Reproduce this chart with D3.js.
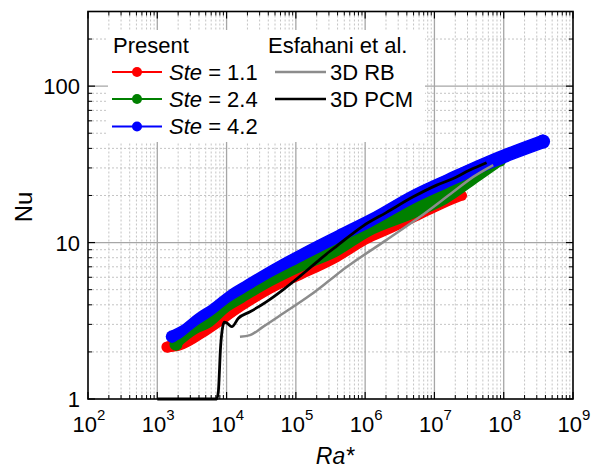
<!DOCTYPE html>
<html><head><meta charset="utf-8">
<script src="https://cdn.jsdelivr.net/npm/d3@7"></script>
<style>
body{margin:0;background:#fff;}
text{font-family:"Liberation Sans",Arial,Helvetica,sans-serif;fill:#000;}
</style>
</head><body>
<svg id="chart" width="595" height="470"></svg>
<script>
// ---------- data ----------
const xMajorTicks = [1e2, 1e3, 1e4, 1e5, 1e6, 1e7, 1e8, 1e9];
const xTickExponents = ["2", "3", "4", "5", "6", "7", "8", "9"];
const yMajorTicks = [1, 10, 100];
const yTickLabels = ["1", "10", "100"];

// Present, Ste = 1.1 (scatter band envelope)
const redRa     = [1380, 2126, 5760, 17420, 52840, 127900, 387900, 1.173e6, 2.133e6, 6.18e6, 1.866e7, 2.49e7];
const redNuLow  = [2.00, 2.06, 2.64, 3.71, 4.97, 5.93, 7.51, 10.07, 11.33, 14.13, 17.75, 18.69];
const redNuHigh = [2.31, 2.45, 3.15, 4.42, 5.93, 7.08, 8.96, 12.02, 13.52, 16.86, 21.02, 21.34];

// Present, Ste = 2.4
const greenRa     = [1861, 2126, 3703, 5760, 11190, 17420, 33860, 127900, 387900, 1.173e6, 4.94e6, 1.50e7, 4.54e7, 8.81e7];
const greenNuLow  = [2.06, 2.18, 2.64, 2.89, 3.71, 4.17, 4.97, 6.67, 8.20, 11.10, 14.34, 17.88, 25.08, 30.83];
const greenNuHigh = [2.45, 2.60, 3.29, 3.76, 4.69, 5.27, 6.29, 8.32, 10.68, 14.34, 20.41, 25.83, 32.21, 36.24];

// Present, Ste = 4.2
const blueRa     = [1630, 2126, 3703, 5760, 11190, 17420, 33860, 127900, 387900, 1.173e6, 4.94e6, 1.50e7, 4.54e7, 1.371e8, 3.68e8];
const blueNuLow  = [2.31, 2.45, 2.97, 3.37, 4.23, 4.76, 5.68, 7.73, 9.93, 12.56, 17.88, 22.46, 28.02, 34.16, 40.17];
const blueNuHigh = [2.72, 2.89, 3.49, 3.96, 4.97, 5.59, 6.67, 9.22, 11.84, 15.12, 21.65, 27.20, 33.91, 41.37, 48.63];

// Esfahani et al., 3D RB
const rbRa = [15600, 21800, 33900, 66000, 160000, 310000, 510000, 2.04e6, 6.2e6, 1.87e7, 3.63e7, 7.06e7];
const rbNu = [2.50, 2.56, 2.90, 3.53, 4.60, 5.76, 6.84, 10.4, 14.6, 21.1, 26.3, 31.3];

// Esfahani et al., 3D PCM
const pcmRa = [1000, 7200, 7600, 8200, 8800, 9300, 10100, 11900, 14800, 21800, 37900, 65800, 115000, 200000, 310000, 388000, 940000, 2.04e6, 4.94e6, 1.08e7, 1.87e7, 3.25e7, 5.66e7];
const pcmNu = [1.0, 1.0, 1.11, 2.16, 2.90, 3.10, 3.06, 2.90, 3.28, 3.61, 4.19, 5.0, 6.1, 7.5, 8.8, 9.5, 12.8, 15.6, 19.6, 23.3, 25.7, 29.1, 32.4];

const legendPresentLabels = ["1.1", "2.4", "4.2"];
const legendEsfLabels = ["3D RB", "3D PCM"];

// ---------- layout ----------
const svg = d3.select("#chart");
const L = 88, R = 573, T = 11.5, B = 399;
const x = d3.scaleLog().domain([1e2, 1e9]).range([L, R]);
const y = d3.scaleLog().domain([1, 300]).range([B, T]);

const colRed = "#ff0000", colGreen = "#008000", colBlue = "#0000ff";
const colGray = "#8c8c8c", colBlack = "#000000";

// ---------- grid ----------
const xMinor = [];
for (let e = 2; e < 9; e++) for (let m = 2; m <= 9; m++) xMinor.push(m * Math.pow(10, e));
const yMinor = [];
for (let e = 0; e < 3; e++) for (let m = 2; m <= 9; m++) { const v = m * Math.pow(10, e); if (v < 300) yMinor.push(v); }

const grid = svg.append("g");
grid.selectAll(".gxm").data(xMinor).enter().append("line")
  .attr("x1", d => x(d)).attr("x2", d => x(d)).attr("y1", T).attr("y2", B)
  .attr("stroke", "#c4c4c4").attr("stroke-width", 1).attr("stroke-dasharray", "2,2");
grid.selectAll(".gym").data(yMinor).enter().append("line")
  .attr("y1", d => y(d)).attr("y2", d => y(d)).attr("x1", L).attr("x2", R)
  .attr("stroke", "#c4c4c4").attr("stroke-width", 1).attr("stroke-dasharray", "2,2");
grid.selectAll(".gxM").data(xMajorTicks.slice(1, -1)).enter().append("line")
  .attr("x1", d => x(d)).attr("x2", d => x(d)).attr("y1", T).attr("y2", B)
  .attr("stroke", "#a6a6a6").attr("stroke-width", 1.3);
grid.selectAll(".gyM").data(yMajorTicks.slice(1)).enter().append("line")
  .attr("y1", d => y(d)).attr("y2", d => y(d)).attr("x1", L).attr("x2", R)
  .attr("stroke", "#a6a6a6").attr("stroke-width", 1.3);

// legend background
svg.append("rect").attr("x", 108).attr("y", 30).attr("width", 317).attr("height", 112).attr("fill", "#fff");

// ---------- bands ----------
function band(ra, lo, hi, color) {
  const pts = ra.map((r, i) => ({ra: r, lo: lo[i], hi: hi[i]}));
  const area = d3.area().x(d => x(d.ra)).y0(d => y(d.lo)).y1(d => y(d.hi)).curve(d3.curveMonotoneX);
  const g = svg.append("g");
  g.append("path").attr("d", area(pts)).attr("fill", color).attr("stroke", color)
    .attr("stroke-width", 1.5).attr("stroke-linejoin", "round");
  [pts[0], pts[pts.length - 1]].forEach(d => {
    const yc = (y(d.lo) + y(d.hi)) / 2;
    const r = (y(d.lo) - y(d.hi)) / 2 + 0.7;
    g.append("circle").attr("cx", x(d.ra)).attr("cy", yc).attr("r", r).attr("fill", color);
  });
}
band(redRa, redNuLow, redNuHigh, colRed);
band(greenRa, greenNuLow, greenNuHigh, colGreen);
band(blueRa, blueNuLow, blueNuHigh, colBlue);

svg.append("path").attr("d", d3.line().x(d => x(d[0])).y(d => y(d[1])).curve(d3.curveMonotoneX)(rbRa.map((r, i) => [r, rbNu[i]])))
  .attr("fill", "none").attr("stroke", colGray).attr("stroke-width", 2.5);
svg.append("path").attr("d", d3.line().x(d => x(d[0])).y(d => y(d[1])).curve(d3.curveMonotoneX)(pcmRa.map((r, i) => [r, pcmNu[i]])))
  .attr("fill", "none").attr("stroke", colBlack).attr("stroke-width", 2.8).attr("stroke-linejoin", "round");

// ---------- frame & ticks ----------
const ax = svg.append("g").attr("stroke", "#000");
const majLen = 7, minLen = 4;
[B, T].forEach((yy, k) => {
  const dir = k === 0 ? -1 : 1;
  ax.selectAll(null).data(xMajorTicks).enter().append("line")
    .attr("x1", d => x(d)).attr("x2", d => x(d)).attr("y1", yy).attr("y2", yy + dir * majLen).attr("stroke-width", 1.2);
  ax.selectAll(null).data(xMinor).enter().append("line")
    .attr("x1", d => x(d)).attr("x2", d => x(d)).attr("y1", yy).attr("y2", yy + dir * minLen).attr("stroke-width", 1);
});
[L, R].forEach((xx, k) => {
  const dir = k === 0 ? 1 : -1;
  ax.selectAll(null).data(yMajorTicks).enter().append("line")
    .attr("y1", d => y(d)).attr("y2", d => y(d)).attr("x1", xx).attr("x2", xx + dir * majLen).attr("stroke-width", 1.2);
  ax.selectAll(null).data(yMinor).enter().append("line")
    .attr("y1", d => y(d)).attr("y2", d => y(d)).attr("x1", xx).attr("x2", xx + dir * minLen).attr("stroke-width", 1);
});
svg.append("rect").attr("x", L).attr("y", T).attr("width", R - L).attr("height", B - T)
  .attr("fill", "none").attr("stroke", "#000").attr("stroke-width", 1.6);

// tick labels
const xl = svg.append("g");
xMajorTicks.forEach((v, i) => {
  const t = xl.append("text").attr("x", x(v) + 1).attr("y", 432).attr("text-anchor", "middle").attr("font-size", 22);
  t.append("tspan").text("10");
  t.append("tspan").attr("dy", -12).attr("font-size", 15).text(xTickExponents[i]);
});
yMajorTicks.forEach((v, i) => {
  svg.append("text").attr("x", 80).attr("y", y(v) + 8).attr("text-anchor", "end").attr("font-size", 22).text(yTickLabels[i]);
});

// axis titles
svg.append("text").attr("transform", "translate(32,207) rotate(-90)").attr("text-anchor", "middle")
  .attr("font-size", 24).text("Nu");
svg.append("text").attr("x", 335).attr("y", 464).attr("text-anchor", "middle").attr("font-size", 23)
  .attr("font-style", "italic").text("Ra*");

// ---------- legend ----------
const lg = svg.append("g").attr("font-size", 22);
lg.append("text").attr("x", 113).attr("y", 53).text("Present");
const presentColors = [colRed, colGreen, colBlue];
const rowY = [72, 99, 126.5];
presentColors.forEach((c, i) => {
  lg.append("line").attr("x1", 112).attr("x2", 162).attr("y1", rowY[i]).attr("y2", rowY[i]).attr("stroke", c).attr("stroke-width", 2);
  lg.append("circle").attr("cx", 137).attr("cy", rowY[i]).attr("r", 5).attr("fill", c);
  const t = lg.append("text").attr("x", 169).attr("y", rowY[i] + 7.5);
  t.append("tspan").attr("font-style", "italic").text("Ste");
  t.append("tspan").text(" = " + legendPresentLabels[i]);
});
lg.append("text").attr("x", 268).attr("y", 53).text("Esfahani et al.");
[colGray, colBlack].forEach((c, i) => {
  lg.append("line").attr("x1", 275).attr("x2", 326).attr("y1", rowY[i]).attr("y2", rowY[i]).attr("stroke", c).attr("stroke-width", 2.5);
  lg.append("text").attr("x", 330).attr("y", rowY[i] + 7.5).text(legendEsfLabels[i]);
});
</script>
</body></html>
